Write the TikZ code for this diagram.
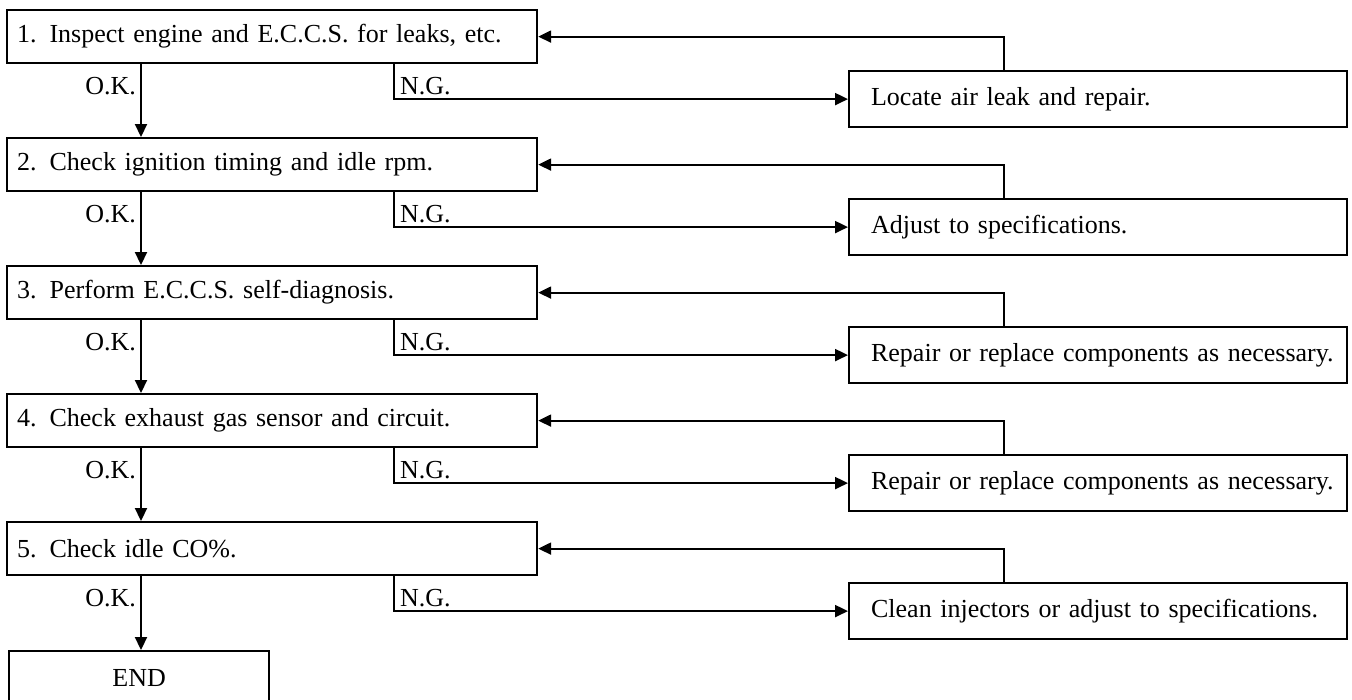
\documentclass[tikz,border=0pt]{standalone}
\usepackage{fontspec}
\setmainfont{Liberation Serif}
\usetikzlibrary{arrows.meta,calc}
\begin{document}
\begin{tikzpicture}[x=1pt,y=-1pt,
  line width=2.2pt,
  txt/.style={font=\fontsize{26}{30}\selectfont},
  stepbox/.style={txt, draw, anchor=north west, minimum height=53pt,
    text width=530pt, inner xsep=0pt, inner ysep=0pt, align=left,
    execute at begin node=\hspace*{10pt}},
  fixbox/.style={txt, draw, anchor=north west, minimum height=56pt,
    text width=498pt, inner xsep=0pt, inner ysep=0pt, align=left,
    execute at begin node=\hspace*{22pt}},
  endbox/.style={txt, draw, anchor=north west, minimum width=260pt,
    minimum height=53pt, inner sep=0pt},
  lab/.style={txt, inner sep=0pt},
  arr/.style={-{Triangle[length=13pt,width=12pt]}},
]
\useasboundingbox (0,0) rectangle (1352,699);

% columns of the connectors
\coordinate (okx) at (141,0);
\coordinate (ngx) at (394,0);
\coordinate (fbx) at (1004,0);

% check steps
\node[stepbox] (s1) at (6,9)   {1.\hspace{13pt}Inspect engine and E.C.C.S. for leaks, etc.};
\node[stepbox] (s2) at (6,137) {2.\hspace{13pt}Check ignition timing and idle rpm.};
\node[stepbox] (s3) at (6,265) {3.\hspace{13pt}Perform E.C.C.S. self-diagnosis.};
\node[stepbox] (s4) at (6,393) {4.\hspace{13pt}Check exhaust gas sensor and circuit.};
\node[stepbox] (s5) at (6,521) {5.\hspace{13pt}Check idle CO\%.};
\node[endbox]  (end) at (8,650) {END};

% remedies
\node[fixbox] (r1) at (848,70)  {Locate air leak and repair.};
\node[fixbox] (r2) at (848,198) {Adjust to specifications.};
\node[fixbox] (r3) at (848,326) {Repair or replace components as necessary.};
\node[fixbox] (r4) at (848,454) {Repair or replace components as necessary.};
\node[fixbox] (r5) at (848,582) {Clean injectors or adjust to specifications.};

% O.K. path
\draw[arr] (s1.south -| okx) -- (s2.north -| okx);
\draw[arr] (s2.south -| okx) -- (s3.north -| okx);
\draw[arr] (s3.south -| okx) -- (s4.north -| okx);
\draw[arr] (s4.south -| okx) -- (s5.north -| okx);
\draw[arr] (s5.south -| okx) -- (end.north -| okx);

% N.G. branches and returns
\foreach \i in {1,...,5}{
  \draw[arr] (s\i.south -| ngx) |- (r\i.west);
  \draw[arr] (r\i.north -| fbx) |- (s\i.east);
  \node[lab, anchor=east] (ok\i) at ($(s\i.south -| okx)+(-4,22)$) {O.K.};
  \node[lab, anchor=west] (ng\i) at ($(s\i.south -| ngx)+(5,22)$) {N.G.};
}
\end{tikzpicture}
\end{document}
